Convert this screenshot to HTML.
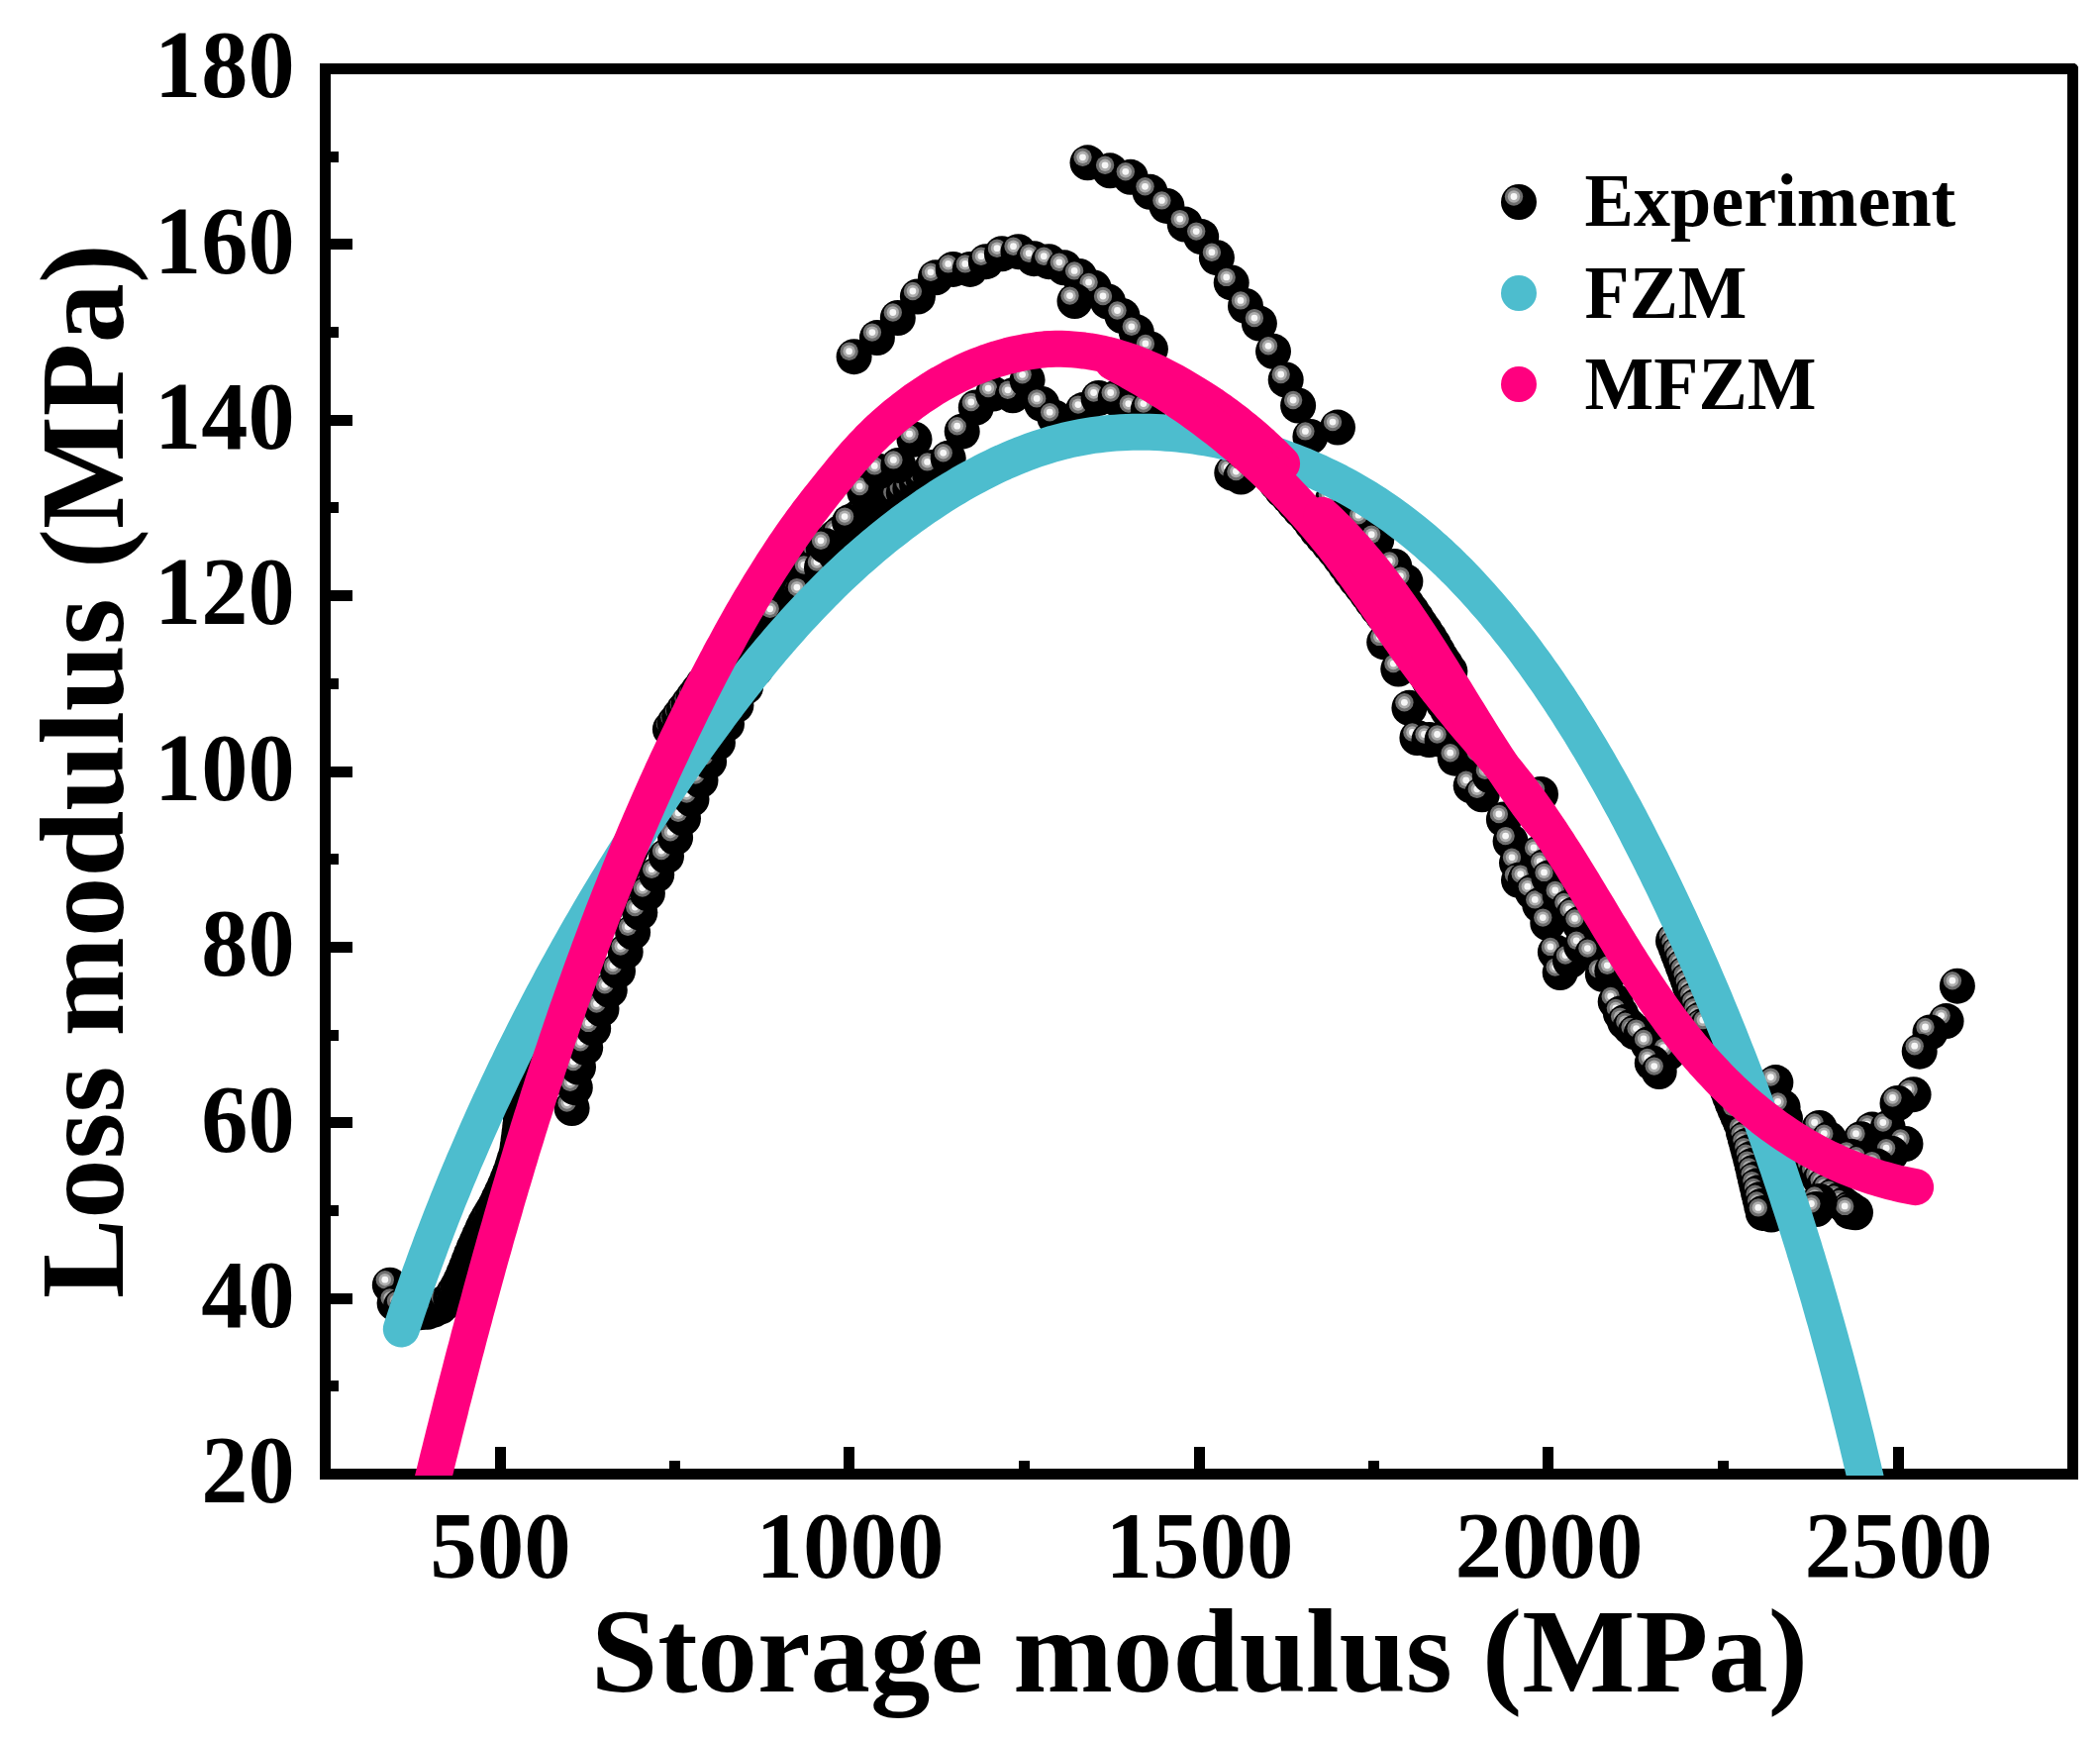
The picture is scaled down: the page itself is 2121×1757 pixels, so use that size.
<!DOCTYPE html>
<html><head><meta charset="utf-8"><title>Loss modulus vs Storage modulus</title><style>html,body{margin:0;padding:0;background:#fff;overflow:hidden}svg{display:block}</style></head><body>
<svg xmlns="http://www.w3.org/2000/svg" width="2121" height="1757" viewBox="0 0 2121 1757">
<defs>
<g id="m"><circle r="18" fill="#000"/><circle cx="-5" cy="-5.5" r="9.2" fill="#6e6e6e"/><circle cx="-5" cy="-5.5" r="6.2" fill="#adadad"/><circle cx="-5" cy="-5.5" r="3.4" fill="#f7f7f7"/></g>
<clipPath id="pc"><rect x="334" y="75" width="1754" height="1415"/></clipPath>
</defs>
<rect width="100%" height="100%" fill="#fff"/>
<g fill="#000" shape-rendering="crispEdges">
<rect x="323" y="64" width="1776" height="11"/>
<rect x="323" y="1483" width="1776" height="11"/>
<rect x="323" y="64" width="11" height="1430"/>
<rect x="2088" y="64" width="11" height="1430"/>
<rect x="334" y="241" width="22" height="11"/>
<rect x="334" y="419" width="22" height="11"/>
<rect x="334" y="596" width="22" height="11"/>
<rect x="334" y="774" width="22" height="11"/>
<rect x="334" y="951" width="22" height="11"/>
<rect x="334" y="1128" width="22" height="11"/>
<rect x="334" y="1306" width="22" height="11"/>
<rect x="334" y="153" width="8" height="11"/>
<rect x="334" y="330" width="8" height="11"/>
<rect x="334" y="507" width="8" height="11"/>
<rect x="334" y="685" width="8" height="11"/>
<rect x="334" y="862" width="8" height="11"/>
<rect x="334" y="1040" width="8" height="11"/>
<rect x="334" y="1217" width="8" height="11"/>
<rect x="334" y="1394" width="8" height="11"/>
<rect x="500" y="1461" width="11" height="22"/>
<rect x="852" y="1461" width="11" height="22"/>
<rect x="1206" y="1461" width="11" height="22"/>
<rect x="1558" y="1461" width="11" height="22"/>
<rect x="1912" y="1461" width="11" height="22"/>
<rect x="676" y="1475" width="11" height="8"/>
<rect x="1029" y="1475" width="11" height="8"/>
<rect x="1382" y="1475" width="11" height="8"/>
<rect x="1735" y="1475" width="11" height="8"/>
</g>
<path d="M2099.5,63.5 L2099.5,70 A6.5 6.5 0 0 0 2093,63.5 Z" fill="#fff"/>
<g id="exp">
<use href="#m" x="393.8" y="1297.7"/>
<use href="#m" x="398.6" y="1316.0"/>
<use href="#m" x="405.0" y="1318.9"/>
<use href="#m" x="411.4" y="1321.7"/>
<use href="#m" x="418.1" y="1323.5"/>
<use href="#m" x="424.9" y="1325.2"/>
<use href="#m" x="431.6" y="1324.8"/>
<use href="#m" x="438.3" y="1322.6"/>
<use href="#m" x="444.5" y="1319.7"/>
<use href="#m" x="449.9" y="1315.2"/>
<use href="#m" x="455.2" y="1310.7"/>
<use href="#m" x="458.8" y="1304.7"/>
<use href="#m" x="462.4" y="1298.7"/>
<use href="#m" x="465.5" y="1292.4"/>
<use href="#m" x="468.3" y="1286.0"/>
<use href="#m" x="471.0" y="1279.5"/>
<use href="#m" x="473.5" y="1273.0"/>
<use href="#m" x="476.0" y="1266.5"/>
<use href="#m" x="478.7" y="1260.0"/>
<use href="#m" x="481.6" y="1253.6"/>
<use href="#m" x="484.4" y="1247.2"/>
<use href="#m" x="487.3" y="1240.8"/>
<use href="#m" x="490.3" y="1234.5"/>
<use href="#m" x="493.7" y="1228.4"/>
<use href="#m" x="497.3" y="1222.4"/>
<use href="#m" x="500.8" y="1216.3"/>
<use href="#m" x="503.8" y="1210.0"/>
<use href="#m" x="506.8" y="1203.7"/>
<use href="#m" x="509.7" y="1197.3"/>
<use href="#m" x="512.4" y="1190.8"/>
<use href="#m" x="515.0" y="1184.4"/>
<use href="#m" x="517.3" y="1177.8"/>
<use href="#m" x="519.4" y="1171.1"/>
<use href="#m" x="521.6" y="1164.4"/>
<use href="#m" x="522.7" y="1157.5"/>
<use href="#m" x="523.6" y="1150.6"/>
<use href="#m" x="524.5" y="1143.7"/>
<use href="#m" x="525.3" y="1136.7"/>
<use href="#m" x="525.9" y="1129.7"/>
<use href="#m" x="526.6" y="1122.8"/>
<use href="#m" x="527.8" y="1115.9"/>
<use href="#m" x="530.4" y="1109.4"/>
<use href="#m" x="532.9" y="1102.9"/>
<use href="#m" x="535.5" y="1096.4"/>
<use href="#m" x="538.1" y="1089.9"/>
<use href="#m" x="540.7" y="1083.4"/>
<use href="#m" x="543.5" y="1076.9"/>
<use href="#m" x="546.2" y="1070.5"/>
<use href="#m" x="549.0" y="1064.1"/>
<use href="#m" x="551.7" y="1057.6"/>
<use href="#m" x="554.5" y="1051.2"/>
<use href="#m" x="557.2" y="1044.8"/>
<use href="#m" x="560.0" y="1038.3"/>
<use href="#m" x="562.8" y="1031.9"/>
<use href="#m" x="565.5" y="1025.5"/>
<use href="#m" x="568.3" y="1019.0"/>
<use href="#m" x="571.0" y="1012.6"/>
<use href="#m" x="573.8" y="1006.2"/>
<use href="#m" x="576.5" y="999.7"/>
<use href="#m" x="579.3" y="993.3"/>
<use href="#m" x="582.1" y="986.9"/>
<use href="#m" x="584.8" y="980.4"/>
<use href="#m" x="587.6" y="974.0"/>
<use href="#m" x="590.3" y="967.6"/>
<use href="#m" x="593.1" y="961.1"/>
<use href="#m" x="595.8" y="954.7"/>
<use href="#m" x="598.6" y="948.3"/>
<use href="#m" x="601.4" y="941.8"/>
<use href="#m" x="604.1" y="935.4"/>
<use href="#m" x="606.9" y="929.0"/>
<use href="#m" x="609.6" y="922.5"/>
<use href="#m" x="612.4" y="916.1"/>
<use href="#m" x="615.1" y="909.7"/>
<use href="#m" x="617.9" y="903.2"/>
<use href="#m" x="620.7" y="896.8"/>
<use href="#m" x="623.4" y="890.4"/>
<use href="#m" x="626.2" y="883.9"/>
<use href="#m" x="628.9" y="877.5"/>
<use href="#m" x="631.7" y="871.1"/>
<use href="#m" x="634.4" y="864.6"/>
<use href="#m" x="637.2" y="858.2"/>
<use href="#m" x="640.0" y="851.8"/>
<use href="#m" x="642.7" y="845.3"/>
<use href="#m" x="645.5" y="838.9"/>
<use href="#m" x="648.2" y="832.5"/>
<use href="#m" x="651.0" y="826.0"/>
<use href="#m" x="653.7" y="819.6"/>
<use href="#m" x="656.5" y="813.2"/>
<use href="#m" x="659.3" y="806.7"/>
<use href="#m" x="662.0" y="800.3"/>
<use href="#m" x="664.8" y="793.9"/>
<use href="#m" x="667.5" y="787.4"/>
<use href="#m" x="670.3" y="781.0"/>
<use href="#m" x="673.0" y="774.6"/>
<use href="#m" x="675.8" y="768.1"/>
<use href="#m" x="678.6" y="761.7"/>
<use href="#m" x="681.3" y="755.2"/>
<use href="#m" x="684.1" y="748.8"/>
<use href="#m" x="686.8" y="742.4"/>
<use href="#m" x="689.6" y="735.9"/>
<use href="#m" x="577.6" y="1119.0"/>
<use href="#m" x="580.8" y="1098.2"/>
<use href="#m" x="584.0" y="1077.5"/>
<use href="#m" x="591.2" y="1057.8"/>
<use href="#m" x="599.2" y="1038.4"/>
<use href="#m" x="607.5" y="1019.1"/>
<use href="#m" x="615.8" y="999.8"/>
<use href="#m" x="624.0" y="980.5"/>
<use href="#m" x="631.7" y="961.0"/>
<use href="#m" x="639.1" y="941.3"/>
<use href="#m" x="646.3" y="921.6"/>
<use href="#m" x="653.9" y="902.0"/>
<use href="#m" x="663.2" y="883.2"/>
<use href="#m" x="673.0" y="864.6"/>
<use href="#m" x="682.1" y="845.7"/>
<use href="#m" x="690.0" y="826.3"/>
<use href="#m" x="698.5" y="807.0"/>
<use href="#m" x="707.5" y="788.1"/>
<use href="#m" x="716.1" y="768.9"/>
<use href="#m" x="724.9" y="749.9"/>
<use href="#m" x="734.0" y="731.0"/>
<use href="#m" x="743.4" y="712.2"/>
<use href="#m" x="753.1" y="693.6"/>
<use href="#m" x="763.6" y="675.4"/>
<use href="#m" x="773.7" y="657.0"/>
<use href="#m" x="783.3" y="638.3"/>
<use href="#m" x="676.9" y="736.3"/>
<use href="#m" x="681.5" y="729.8"/>
<use href="#m" x="686.2" y="723.3"/>
<use href="#m" x="690.9" y="716.8"/>
<use href="#m" x="695.6" y="710.4"/>
<use href="#m" x="700.4" y="703.9"/>
<use href="#m" x="705.2" y="697.5"/>
<use href="#m" x="710.0" y="691.1"/>
<use href="#m" x="714.8" y="684.7"/>
<use href="#m" x="719.7" y="678.4"/>
<use href="#m" x="724.6" y="672.1"/>
<use href="#m" x="729.6" y="665.8"/>
<use href="#m" x="734.5" y="659.5"/>
<use href="#m" x="739.6" y="653.3"/>
<use href="#m" x="744.6" y="647.1"/>
<use href="#m" x="749.7" y="640.9"/>
<use href="#m" x="754.9" y="634.8"/>
<use href="#m" x="760.0" y="628.7"/>
<use href="#m" x="765.3" y="622.7"/>
<use href="#m" x="770.5" y="616.6"/>
<use href="#m" x="775.9" y="610.7"/>
<use href="#m" x="781.2" y="604.7"/>
<use href="#m" x="786.6" y="598.8"/>
<use href="#m" x="792.1" y="593.0"/>
<use href="#m" x="797.6" y="587.2"/>
<use href="#m" x="803.2" y="581.4"/>
<use href="#m" x="808.8" y="575.7"/>
<use href="#m" x="814.4" y="570.1"/>
<use href="#m" x="820.1" y="564.5"/>
<use href="#m" x="825.9" y="558.9"/>
<use href="#m" x="831.7" y="553.5"/>
<use href="#m" x="837.6" y="548.0"/>
<use href="#m" x="843.5" y="542.7"/>
<use href="#m" x="849.5" y="537.4"/>
<use href="#m" x="855.6" y="532.1"/>
<use href="#m" x="861.7" y="526.9"/>
<use href="#m" x="867.8" y="521.8"/>
<use href="#m" x="874.0" y="516.8"/>
<use href="#m" x="880.3" y="511.8"/>
<use href="#m" x="886.6" y="506.9"/>
<use href="#m" x="893.0" y="502.1"/>
<use href="#m" x="899.4" y="497.3"/>
<use href="#m" x="906.3" y="502.2"/>
<use href="#m" x="912.8" y="497.6"/>
<use href="#m" x="919.3" y="493.0"/>
<use href="#m" x="926.0" y="488.5"/>
<use href="#m" x="932.6" y="484.1"/>
<use href="#m" x="939.4" y="479.8"/>
<use href="#m" x="946.2" y="475.5"/>
<use href="#m" x="953.0" y="471.4"/>
<use href="#m" x="782.7" y="620.3"/>
<use href="#m" x="806.9" y="600.2"/>
<use href="#m" x="816.9" y="576.0"/>
<use href="#m" x="830.0" y="573.0"/>
<use href="#m" x="844.1" y="559.9"/>
<use href="#m" x="847.1" y="539.8"/>
<use href="#m" x="858.1" y="527.1"/>
<use href="#m" x="873.2" y="496.6"/>
<use href="#m" x="809.9" y="598.6"/>
<use href="#m" x="834.0" y="551.3"/>
<use href="#m" x="888.3" y="475.9"/>
<use href="#m" x="907.4" y="469.9"/>
<use href="#m" x="923.5" y="443.7"/>
<use href="#m" x="941.6" y="471.9"/>
<use href="#m" x="957.7" y="462.8"/>
<use href="#m" x="971.7" y="435.7"/>
<use href="#m" x="985.8" y="411.5"/>
<use href="#m" x="1003.1" y="397.6"/>
<use href="#m" x="1022.9" y="399.3"/>
<use href="#m" x="1037.6" y="383.8"/>
<use href="#m" x="1052.2" y="407.9"/>
<use href="#m" x="1065.2" y="421.7"/>
<use href="#m" x="1093.9" y="414.1"/>
<use href="#m" x="1109.6" y="402.0"/>
<use href="#m" x="1126.7" y="402.0"/>
<use href="#m" x="1144.8" y="413.1"/>
<use href="#m" x="1159.9" y="413.1"/>
<use href="#m" x="1244.3" y="477.5"/>
<use href="#m" x="1253.4" y="481.5"/>
<use href="#m" x="862.6" y="360.2"/>
<use href="#m" x="885.9" y="341.1"/>
<use href="#m" x="906.8" y="321.0"/>
<use href="#m" x="926.9" y="299.5"/>
<use href="#m" x="945.0" y="280.3"/>
<use href="#m" x="962.7" y="271.9"/>
<use href="#m" x="979.8" y="271.9"/>
<use href="#m" x="995.9" y="264.2"/>
<use href="#m" x="1012.0" y="256.2"/>
<use href="#m" x="1028.5" y="254.2"/>
<use href="#m" x="1044.2" y="261.2"/>
<use href="#m" x="1059.3" y="264.2"/>
<use href="#m" x="1074.8" y="270.3"/>
<use href="#m" x="1090.1" y="278.9"/>
<use href="#m" x="1104.6" y="290.4"/>
<use href="#m" x="1119.0" y="304.5"/>
<use href="#m" x="1133.5" y="319.0"/>
<use href="#m" x="1147.8" y="335.3"/>
<use href="#m" x="1161.9" y="352.4"/>
<use href="#m" x="1085.5" y="304.1"/>
<use href="#m" x="1098.5" y="164.3"/>
<use href="#m" x="1121.1" y="172.3"/>
<use href="#m" x="1141.8" y="178.8"/>
<use href="#m" x="1161.5" y="193.8"/>
<use href="#m" x="1178.4" y="207.9"/>
<use href="#m" x="1196.7" y="226.6"/>
<use href="#m" x="1213.2" y="239.1"/>
<use href="#m" x="1228.9" y="260.2"/>
<use href="#m" x="1243.7" y="285.4"/>
<use href="#m" x="1258.0" y="308.9"/>
<use href="#m" x="1271.9" y="326.6"/>
<use href="#m" x="1286.0" y="354.8"/>
<use href="#m" x="1298.7" y="383.5"/>
<use href="#m" x="1311.1" y="409.5"/>
<use href="#m" x="1323.4" y="440.9"/>
<use href="#m" x="1351.0" y="431.6"/>
<use href="#m" x="1234.8" y="441.7"/>
<use href="#m" x="1242.4" y="446.6"/>
<use href="#m" x="1249.9" y="451.5"/>
<use href="#m" x="1256.9" y="457.1"/>
<use href="#m" x="1264.0" y="462.7"/>
<use href="#m" x="1270.7" y="468.7"/>
<use href="#m" x="1277.4" y="474.7"/>
<use href="#m" x="1284.1" y="480.8"/>
<use href="#m" x="1289.3" y="488.1"/>
<use href="#m" x="1294.9" y="495.1"/>
<use href="#m" x="1301.3" y="501.4"/>
<use href="#m" x="1307.1" y="508.3"/>
<use href="#m" x="1313.1" y="515.0"/>
<use href="#m" x="1319.4" y="521.4"/>
<use href="#m" x="1324.8" y="528.6"/>
<use href="#m" x="1330.2" y="535.8"/>
<use href="#m" x="1336.1" y="542.6"/>
<use href="#m" x="1342.0" y="549.4"/>
<use href="#m" x="1347.8" y="556.3"/>
<use href="#m" x="1353.3" y="563.4"/>
<use href="#m" x="1358.6" y="570.7"/>
<use href="#m" x="1363.8" y="578.0"/>
<use href="#m" x="1369.2" y="585.2"/>
<use href="#m" x="1374.9" y="592.2"/>
<use href="#m" x="1380.3" y="599.4"/>
<use href="#m" x="1385.5" y="606.7"/>
<use href="#m" x="1390.9" y="613.9"/>
<use href="#m" x="1396.5" y="621.0"/>
<use href="#m" x="1402.6" y="627.5"/>
<use href="#m" x="1408.4" y="634.4"/>
<use href="#m" x="1413.5" y="641.9"/>
<use href="#m" x="1418.5" y="649.3"/>
<use href="#m" x="1423.5" y="656.8"/>
<use href="#m" x="1428.5" y="664.3"/>
<use href="#m" x="1433.5" y="671.8"/>
<use href="#m" x="1438.5" y="679.2"/>
<use href="#m" x="1443.3" y="686.9"/>
<use href="#m" x="1448.0" y="694.5"/>
<use href="#m" x="1452.8" y="702.1"/>
<use href="#m" x="1457.6" y="709.8"/>
<use href="#m" x="1462.3" y="717.4"/>
<use href="#m" x="1467.1" y="725.1"/>
<use href="#m" x="1472.8" y="732.0"/>
<use href="#m" x="1478.7" y="738.8"/>
<use href="#m" x="1484.8" y="745.3"/>
<use href="#m" x="1491.8" y="751.0"/>
<use href="#m" x="1498.9" y="756.6"/>
<use href="#m" x="1350.9" y="523.7"/>
<use href="#m" x="1356.5" y="529.3"/>
<use href="#m" x="1362.1" y="535.1"/>
<use href="#m" x="1367.3" y="541.2"/>
<use href="#m" x="1372.5" y="547.2"/>
<use href="#m" x="1377.7" y="553.3"/>
<use href="#m" x="1383.0" y="559.4"/>
<use href="#m" x="1388.2" y="565.4"/>
<use href="#m" x="1393.0" y="571.8"/>
<use href="#m" x="1397.4" y="578.5"/>
<use href="#m" x="1401.8" y="585.2"/>
<use href="#m" x="1406.2" y="591.8"/>
<use href="#m" x="1410.9" y="598.2"/>
<use href="#m" x="1416.1" y="604.4"/>
<use href="#m" x="1421.2" y="610.6"/>
<use href="#m" x="1425.8" y="617.0"/>
<use href="#m" x="1430.3" y="623.7"/>
<use href="#m" x="1434.7" y="630.4"/>
<use href="#m" x="1439.2" y="637.0"/>
<use href="#m" x="1443.6" y="643.7"/>
<use href="#m" x="1447.8" y="650.5"/>
<use href="#m" x="1451.7" y="657.4"/>
<use href="#m" x="1455.7" y="664.4"/>
<use href="#m" x="1460.0" y="671.1"/>
<use href="#m" x="1464.4" y="677.8"/>
<use href="#m" x="1556.0" y="802.0"/>
<use href="#m" x="1345.9" y="505.0"/>
<use href="#m" x="1377.1" y="525.7"/>
<use href="#m" x="1390.2" y="545.2"/>
<use href="#m" x="1408.3" y="572.0"/>
<use href="#m" x="1419.4" y="587.1"/>
<use href="#m" x="1398.2" y="648.4"/>
<use href="#m" x="1412.3" y="675.6"/>
<use href="#m" x="1423.4" y="714.8"/>
<use href="#m" x="1431.4" y="745.0"/>
<use href="#m" x="1443.5" y="747.0"/>
<use href="#m" x="1456.6" y="747.0"/>
<use href="#m" x="1469.7" y="765.7"/>
<use href="#m" x="1495.8" y="765.1"/>
<use href="#m" x="1485.7" y="793.3"/>
<use href="#m" x="1496.8" y="802.3"/>
<use href="#m" x="1504.9" y="783.2"/>
<use href="#m" x="1518.9" y="827.5"/>
<use href="#m" x="1525.6" y="849.6"/>
<use href="#m" x="1532.0" y="871.3"/>
<use href="#m" x="1534.0" y="888.8"/>
<use href="#m" x="1690.0" y="950.0"/>
<use href="#m" x="1692.5" y="956.6"/>
<use href="#m" x="1694.9" y="963.1"/>
<use href="#m" x="1697.4" y="969.7"/>
<use href="#m" x="1699.8" y="976.2"/>
<use href="#m" x="1702.3" y="982.8"/>
<use href="#m" x="1704.7" y="989.3"/>
<use href="#m" x="1706.9" y="996.0"/>
<use href="#m" x="1709.1" y="1002.6"/>
<use href="#m" x="1711.3" y="1009.3"/>
<use href="#m" x="1713.4" y="1015.9"/>
<use href="#m" x="1715.6" y="1022.6"/>
<use href="#m" x="1717.8" y="1029.3"/>
<use href="#m" x="1720.2" y="1035.8"/>
<use href="#m" x="1722.7" y="1042.4"/>
<use href="#m" x="1725.1" y="1048.9"/>
<use href="#m" x="1727.6" y="1055.5"/>
<use href="#m" x="1730.1" y="1062.0"/>
<use href="#m" x="1732.6" y="1068.6"/>
<use href="#m" x="1735.0" y="1075.1"/>
<use href="#m" x="1737.5" y="1081.7"/>
<use href="#m" x="1740.0" y="1088.2"/>
<use href="#m" x="1742.4" y="1094.8"/>
<use href="#m" x="1744.9" y="1101.3"/>
<use href="#m" x="1747.3" y="1107.9"/>
<use href="#m" x="1749.8" y="1114.4"/>
<use href="#m" x="1752.5" y="1120.9"/>
<use href="#m" x="1755.3" y="1127.3"/>
<use href="#m" x="1758.0" y="1133.7"/>
<use href="#m" x="1760.8" y="1140.2"/>
<use href="#m" x="1763.5" y="1146.6"/>
<use href="#m" x="1766.0" y="1153.2"/>
<use href="#m" x="1768.2" y="1159.8"/>
<use href="#m" x="1770.4" y="1166.5"/>
<use href="#m" x="1772.5" y="1173.1"/>
<use href="#m" x="1774.7" y="1179.8"/>
<use href="#m" x="1776.8" y="1186.4"/>
<use href="#m" x="1778.9" y="1193.1"/>
<use href="#m" x="1780.9" y="1199.8"/>
<use href="#m" x="1783.0" y="1206.5"/>
<use href="#m" x="1785.0" y="1213.2"/>
<use href="#m" x="1787.0" y="1219.9"/>
<use href="#m" x="1789.0" y="1226.6"/>
<use href="#m" x="1750.0" y="1110.0"/>
<use href="#m" x="1752.2" y="1116.6"/>
<use href="#m" x="1754.4" y="1123.3"/>
<use href="#m" x="1760.9" y="1143.3"/>
<use href="#m" x="1762.7" y="1150.0"/>
<use href="#m" x="1764.5" y="1156.8"/>
<use href="#m" x="1766.3" y="1163.6"/>
<use href="#m" x="1768.1" y="1170.3"/>
<use href="#m" x="1769.7" y="1177.1"/>
<use href="#m" x="1771.3" y="1184.0"/>
<use href="#m" x="1772.8" y="1190.8"/>
<use href="#m" x="1774.4" y="1197.6"/>
<use href="#m" x="1776.0" y="1204.4"/>
<use href="#m" x="1777.6" y="1211.2"/>
<use href="#m" x="1779.2" y="1218.0"/>
<use href="#m" x="1780.8" y="1224.9"/>
<use href="#m" x="1830.0" y="1180.0"/>
<use href="#m" x="1834.2" y="1185.6"/>
<use href="#m" x="1838.4" y="1191.2"/>
<use href="#m" x="1842.6" y="1196.8"/>
<use href="#m" x="1847.1" y="1202.1"/>
<use href="#m" x="1852.1" y="1207.1"/>
<use href="#m" x="1857.0" y="1212.0"/>
<use href="#m" x="1862.3" y="1216.5"/>
<use href="#m" x="1868.1" y="1220.4"/>
<use href="#m" x="1874.0" y="1224.3"/>
<use href="#m" x="1540.7" y="888.1"/>
<use href="#m" x="1547.8" y="900.7"/>
<use href="#m" x="1555.3" y="913.9"/>
<use href="#m" x="1563.3" y="932.1"/>
<use href="#m" x="1570.9" y="961.4"/>
<use href="#m" x="1575.7" y="982.1"/>
<use href="#m" x="1586.0" y="970.0"/>
<use href="#m" x="1554.1" y="861.4"/>
<use href="#m" x="1560.2" y="875.2"/>
<use href="#m" x="1564.5" y="886.4"/>
<use href="#m" x="1575.7" y="904.5"/>
<use href="#m" x="1584.3" y="916.5"/>
<use href="#m" x="1589.5" y="923.4"/>
<use href="#m" x="1595.5" y="932.9"/>
<use href="#m" x="1597.2" y="955.3"/>
<use href="#m" x="1608.4" y="963.1"/>
<use href="#m" x="1618.8" y="983.8"/>
<use href="#m" x="1628.3" y="980.3"/>
<use href="#m" x="1631.7" y="1011.4"/>
<use href="#m" x="1636.9" y="1023.4"/>
<use href="#m" x="1641.2" y="1032.1"/>
<use href="#m" x="1646.4" y="1037.2"/>
<use href="#m" x="1651.6" y="1042.4"/>
<use href="#m" x="1657.6" y="1044.1"/>
<use href="#m" x="1665.0" y="1054.5"/>
<use href="#m" x="1685.2" y="1063.1"/>
<use href="#m" x="1668.8" y="1073.4"/>
<use href="#m" x="1675.7" y="1082.1"/>
<use href="#m" x="1724.8" y="1035.5"/>
<use href="#m" x="1976.9" y="995.7"/>
<use href="#m" x="1965.6" y="1031.1"/>
<use href="#m" x="1949.5" y="1042.4"/>
<use href="#m" x="1938.7" y="1061.7"/>
<use href="#m" x="1793.4" y="1093.1"/>
<use href="#m" x="1803.0" y="1129.3"/>
<use href="#m" x="1800.6" y="1118.0"/>
<use href="#m" x="1837.6" y="1139.0"/>
<use href="#m" x="1847.3" y="1150.2"/>
<use href="#m" x="1890.8" y="1140.6"/>
<use href="#m" x="1906.8" y="1139.0"/>
<use href="#m" x="1932.6" y="1105.2"/>
<use href="#m" x="1916.5" y="1114.0"/>
<use href="#m" x="1879.5" y="1150.2"/>
<use href="#m" x="1924.5" y="1155.0"/>
<use href="#m" x="1910.1" y="1164.7"/>
<use href="#m" x="1869.8" y="1167.9"/>
<use href="#m" x="1879.5" y="1172.8"/>
<use href="#m" x="1895.6" y="1177.6"/>
<use href="#m" x="1868.2" y="1223.4"/>
<use href="#m" x="1837.6" y="1213.0"/>
<use href="#m" x="1834.4" y="1221.0"/>
</g>
<g clip-path="url(#pc)" fill="none" stroke-linecap="round" stroke-linejoin="round" stroke-width="37">
<path d="M405.3,1342.0 L407.2,1336.3 L409.1,1330.6 L411.0,1324.8 L412.9,1319.1 L414.9,1313.4 L416.8,1307.7 L418.8,1302.1 L420.8,1296.4 L422.8,1290.7 L424.8,1285.0 L426.9,1279.3 L428.9,1273.7 L431.0,1268.0 L433.1,1262.4 L435.2,1256.7 L437.3,1251.1 L439.5,1245.5 L441.6,1239.8 L443.8,1234.2 L446.0,1228.6 L448.2,1223.0 L450.4,1217.4 L452.6,1211.8 L454.9,1206.2 L457.2,1200.6 L459.4,1195.1 L461.7,1189.5 L464.1,1183.9 L466.4,1178.4 L468.7,1172.8 L471.1,1167.3 L473.5,1161.8 L475.9,1156.2 L478.3,1150.7 L480.7,1145.2 L483.1,1139.7 L485.6,1134.2 L488.0,1128.7 L490.5,1123.2 L493.0,1117.7 L495.5,1112.2 L498.1,1106.8 L500.6,1101.3 L503.2,1095.9 L505.8,1090.4 L508.3,1085.0 L510.9,1079.6 L513.6,1074.2 L516.2,1068.7 L518.8,1063.3 L521.5,1057.9 L524.2,1052.6 L526.9,1047.2 L529.6,1041.8 L532.3,1036.4 L535.0,1031.1 L537.8,1025.7 L540.6,1020.4 L543.3,1015.1 L546.1,1009.7 L548.9,1004.4 L551.8,999.1 L554.6,993.8 L557.4,988.5 L560.3,983.2 L563.2,977.9 L566.1,972.7 L569.0,967.4 L571.9,962.2 L574.8,956.9 L577.8,951.7 L580.7,946.5 L583.7,941.3 L586.7,936.1 L589.7,930.9 L592.7,925.7 L595.7,920.5 L598.8,915.3 L601.8,910.2 L604.9,905.0 L608.0,899.9 L611.1,894.7 L614.2,889.6 L617.3,884.5 L620.4,879.4 L623.6,874.3 L626.8,869.2 L629.9,864.1 L633.1,859.0 L636.3,854.0 L639.5,848.9 L642.7,843.9 L646.0,838.9 L649.2,833.8 L652.5,828.8 L655.8,823.8 L659.1,818.8 L662.4,813.9 L665.7,808.9 L669.0,803.9 L672.3,799.0 L675.7,794.0 L679.1,789.1 L682.4,784.2 L685.8,779.3 L689.2,774.4 L692.6,769.5 L696.1,764.6 L699.5,759.7 L702.9,754.9 L706.4,750.0 L709.9,745.2 L713.4,740.4 L716.9,735.6 L720.4,730.8 L723.9,726.0 L727.4,721.2 L731.0,716.4 L734.6,711.7 L738.1,706.9 L741.7,702.2 L745.4,697.5 L749.0,692.8 L752.7,688.2 L756.3,683.5 L760.0,678.9 L763.8,674.3 L767.5,669.7 L771.2,665.1 L775.0,660.6 L778.8,656.0 L782.7,651.5 L786.5,647.0 L790.4,642.6 L794.3,638.1 L798.2,633.7 L802.1,629.3 L806.1,624.9 L810.1,620.6 L814.1,616.3 L818.2,612.0 L822.3,607.7 L826.4,603.5 L830.5,599.3 L834.7,595.1 L838.9,590.9 L843.1,586.8 L847.4,582.7 L851.7,578.6 L856.0,574.6 L860.3,570.6 L864.7,566.6 L869.2,562.7 L873.6,558.8 L878.1,554.9 L882.7,551.1 L887.2,547.3 L891.8,543.5 L896.5,539.8 L901.2,536.1 L905.9,532.5 L910.6,528.8 L915.4,525.3 L920.3,521.7 L925.1,518.2 L930.1,514.8 L935.0,511.3 L940.0,508.0 L945.1,504.6 L950.1,501.3 L955.3,498.1 L960.4,494.9 L965.6,491.8 L970.8,488.7 L976.1,485.7 L981.4,482.8 L986.7,479.9 L992.0,477.1 L997.4,474.4 L1002.8,471.7 L1008.3,469.1 L1013.7,466.6 L1019.2,464.2 L1024.7,461.9 L1030.3,459.6 L1035.8,457.5 L1041.4,455.4 L1047.0,453.4 L1052.6,451.6 L1058.2,449.8 L1063.9,448.1 L1069.5,446.6 L1075.2,445.1 L1080.9,443.8 L1086.6,442.6 L1092.3,441.5 L1098.0,440.5 L1103.7,439.6 L1109.5,438.8 L1115.2,438.1 L1120.9,437.5 L1126.7,437.1 L1132.4,436.7 L1138.2,436.4 L1143.9,436.3 L1149.7,436.2 L1155.5,436.2 L1161.2,436.3 L1167.0,436.5 L1172.7,436.8 L1178.4,437.2 L1184.2,437.6 L1189.9,438.2 L1195.6,438.8 L1201.3,439.5 L1207.0,440.3 L1212.7,441.2 L1218.4,442.1 L1224.0,443.1 L1229.7,444.2 L1235.3,445.4 L1240.9,446.6 L1246.5,447.9 L1252.1,449.2 L1257.6,450.6 L1263.1,452.1 L1268.6,453.7 L1274.1,455.3 L1279.6,457.0 L1285.0,458.7 L1290.4,460.5 L1295.7,462.4 L1301.0,464.3 L1306.3,466.3 L1311.6,468.4 L1316.8,470.5 L1322.0,472.7 L1327.1,474.9 L1332.2,477.2 L1337.2,479.6 L1342.3,482.0 L1347.2,484.4 L1352.2,486.9 L1357.0,489.5 L1361.9,492.1 L1366.7,494.8 L1371.4,497.6 L1376.1,500.4 L1380.8,503.2 L1385.4,506.1 L1390.0,509.1 L1394.5,512.1 L1399.0,515.1 L1403.5,518.2 L1407.9,521.4 L1412.2,524.6 L1416.5,527.8 L1420.8,531.1 L1425.1,534.5 L1429.3,537.9 L1433.4,541.3 L1437.6,544.8 L1441.7,548.3 L1445.7,551.9 L1449.8,555.5 L1453.8,559.2 L1457.7,562.9 L1461.7,566.6 L1465.6,570.4 L1469.4,574.3 L1473.3,578.1 L1477.1,582.1 L1480.9,586.0 L1484.7,590.0 L1488.4,594.0 L1492.1,598.1 L1495.8,602.2 L1499.5,606.4 L1503.1,610.5 L1506.8,614.8 L1510.4,619.0 L1513.9,623.3 L1517.5,627.6 L1521.0,632.0 L1524.5,636.4 L1528.0,640.8 L1531.5,645.2 L1535.0,649.7 L1538.4,654.2 L1541.8,658.8 L1545.2,663.4 L1548.6,668.0 L1551.9,672.6 L1555.2,677.3 L1558.5,682.0 L1561.8,686.7 L1565.1,691.4 L1568.3,696.2 L1571.5,701.0 L1574.8,705.8 L1577.9,710.7 L1581.1,715.5 L1584.3,720.4 L1587.4,725.4 L1590.5,730.3 L1593.6,735.3 L1596.7,740.2 L1599.7,745.2 L1602.8,750.3 L1605.8,755.3 L1608.8,760.4 L1611.8,765.4 L1614.7,770.5 L1617.7,775.7 L1620.6,780.8 L1623.5,785.9 L1626.4,791.1 L1629.3,796.3 L1632.2,801.5 L1635.0,806.7 L1637.9,811.9 L1640.7,817.1 L1643.5,822.4 L1646.3,827.6 L1649.0,832.9 L1651.8,838.2 L1654.5,843.5 L1657.2,848.8 L1659.9,854.1 L1662.6,859.4 L1665.3,864.7 L1668.0,870.0 L1670.6,875.4 L1673.3,880.7 L1675.9,886.1 L1678.5,891.4 L1681.1,896.8 L1683.7,902.2 L1686.2,907.6 L1688.8,913.0 L1691.3,918.3 L1693.8,923.7 L1696.4,929.2 L1698.8,934.6 L1701.3,940.0 L1703.8,945.4 L1706.3,950.9 L1708.7,956.3 L1711.1,961.7 L1713.5,967.2 L1715.9,972.7 L1718.3,978.1 L1720.7,983.6 L1723.0,989.1 L1725.4,994.6 L1727.7,1000.0 L1730.0,1005.5 L1732.4,1011.1 L1734.6,1016.6 L1736.9,1022.1 L1739.2,1027.6 L1741.4,1033.1 L1743.7,1038.7 L1745.9,1044.2 L1748.1,1049.8 L1750.3,1055.3 L1752.5,1060.9 L1754.7,1066.4 L1756.9,1072.0 L1759.0,1077.6 L1761.2,1083.2 L1763.3,1088.8 L1765.4,1094.3 L1767.5,1099.9 L1769.6,1105.6 L1771.7,1111.2 L1773.7,1116.8 L1775.8,1122.4 L1777.8,1128.0 L1779.9,1133.7 L1781.9,1139.3 L1783.9,1144.9 L1785.9,1150.6 L1787.9,1156.3 L1789.8,1161.9 L1791.8,1167.6 L1793.7,1173.3 L1795.7,1178.9 L1797.6,1184.6 L1799.5,1190.3 L1801.4,1196.0 L1803.3,1201.7 L1805.2,1207.4 L1807.0,1213.1 L1808.9,1218.8 L1810.7,1224.5 L1812.6,1230.3 L1814.4,1236.0 L1816.2,1241.7 L1818.0,1247.5 L1819.8,1253.2 L1821.6,1258.9 L1823.3,1264.7 L1825.1,1270.4 L1826.8,1276.2 L1828.6,1282.0 L1830.3,1287.7 L1832.0,1293.5 L1833.7,1299.3 L1835.4,1305.1 L1837.1,1310.9 L1838.7,1316.7 L1840.4,1322.5 L1842.0,1328.3 L1843.7,1334.1 L1845.3,1339.9 L1846.9,1345.7 L1848.5,1351.5 L1850.1,1357.4 L1851.7,1363.2 L1853.3,1369.0 L1854.9,1374.9 L1856.4,1380.7 L1858.0,1386.5 L1859.5,1392.4 L1861.0,1398.2 L1862.6,1404.1 L1864.1,1410.0 L1865.6,1415.8 L1867.1,1421.7 L1868.5,1427.6 L1870.0,1433.5 L1871.5,1439.3 L1872.9,1445.2 L1874.4,1451.1 L1875.8,1457.0 L1877.2,1462.9 L1878.6,1468.8 L1880.0,1474.7 L1881.4,1480.6 L1882.8,1486.5 L1884.2,1492.4" stroke="#4dbdce"/>
<path d="M435.8,1499.3 L437.2,1493.5 L438.6,1487.8 L440.1,1482.0 L441.5,1476.2 L442.9,1470.4 L444.4,1464.6 L445.8,1458.8 L447.3,1453.0 L448.7,1447.2 L450.2,1441.4 L451.6,1435.6 L453.1,1429.8 L454.6,1424.0 L456.0,1418.1 L457.5,1412.3 L459.0,1406.5 L460.5,1400.7 L462.0,1394.9 L463.5,1389.1 L465.0,1383.3 L466.5,1377.5 L468.0,1371.7 L469.5,1365.9 L471.1,1360.1 L472.6,1354.2 L474.1,1348.4 L475.7,1342.6 L477.2,1336.8 L478.8,1331.0 L480.3,1325.2 L481.9,1319.4 L483.5,1313.6 L485.0,1307.8 L486.6,1302.0 L488.2,1296.1 L489.8,1290.3 L491.4,1284.5 L493.0,1278.7 L494.6,1272.9 L496.2,1267.1 L497.9,1261.3 L499.5,1255.5 L501.1,1249.7 L502.8,1243.9 L504.5,1238.1 L506.1,1232.3 L507.8,1226.5 L509.5,1220.7 L511.1,1214.9 L512.8,1209.1 L514.5,1203.4 L516.2,1197.6 L518.0,1191.8 L519.7,1186.0 L521.4,1180.2 L523.1,1174.5 L524.9,1168.7 L526.6,1162.9 L528.4,1157.1 L530.2,1151.4 L532.0,1145.6 L533.7,1139.8 L535.5,1134.1 L537.3,1128.3 L539.2,1122.6 L541.0,1116.8 L542.8,1111.1 L544.6,1105.3 L546.5,1099.6 L548.3,1093.8 L550.2,1088.1 L552.1,1082.4 L554.0,1076.6 L555.9,1070.9 L557.8,1065.2 L559.7,1059.5 L561.6,1053.7 L563.5,1048.0 L565.5,1042.3 L567.4,1036.6 L569.4,1030.9 L571.3,1025.2 L573.3,1019.5 L575.3,1013.8 L577.3,1008.1 L579.3,1002.5 L581.3,996.8 L583.4,991.1 L585.4,985.5 L587.4,979.8 L589.5,974.1 L591.6,968.5 L593.7,962.8 L595.7,957.2 L597.9,951.6 L600.0,945.9 L602.1,940.3 L604.2,934.7 L606.4,929.1 L608.5,923.4 L610.7,917.8 L612.9,912.2 L615.1,906.6 L617.3,901.0 L619.5,895.5 L621.7,889.9 L624.0,884.3 L626.2,878.7 L628.5,873.2 L630.8,867.6 L633.0,862.1 L635.3,856.5 L637.7,851.0 L640.0,845.5 L642.3,839.9 L644.7,834.4 L647.0,828.9 L649.4,823.4 L651.8,817.9 L654.2,812.4 L656.6,806.9 L659.0,801.5 L661.5,796.0 L663.9,790.5 L666.4,785.1 L668.8,779.6 L671.3,774.2 L673.8,768.8 L676.4,763.3 L678.9,757.9 L681.4,752.5 L684.0,747.1 L686.6,741.7 L689.2,736.3 L691.8,730.9 L694.4,725.6 L697.0,720.2 L699.6,714.8 L702.3,709.5 L705.0,704.2 L707.6,698.8 L710.3,693.5 L713.1,688.2 L715.8,682.9 L718.5,677.6 L721.3,672.3 L724.1,667.1 L726.8,661.8 L729.6,656.6 L732.5,651.4 L735.3,646.2 L738.1,641.0 L741.0,635.8 L743.9,630.7 L746.7,625.6 L749.6,620.5 L752.6,615.4 L755.5,610.4 L758.4,605.4 L761.4,600.4 L764.4,595.5 L767.3,590.5 L770.3,585.7 L773.4,580.8 L776.4,576.0 L779.4,571.2 L782.5,566.5 L785.6,561.7 L788.6,557.1 L791.7,552.4 L794.9,547.8 L798.0,543.3 L801.1,538.8 L804.3,534.3 L807.5,529.9 L810.6,525.5 L813.8,521.2 L817.0,516.9 L820.3,512.7 L823.5,508.5 L826.8,504.3 L830.1,500.1 L833.4,495.9 L836.7,491.8 L840.0,487.6 L843.4,483.5 L846.8,479.3 L850.2,475.1 L853.7,471.0 L857.1,466.9 L860.6,462.8 L864.1,458.8 L867.7,454.8 L871.3,450.9 L874.9,447.1 L878.5,443.3 L882.2,439.7 L885.9,436.1 L889.7,432.5 L893.5,429.1 L897.3,425.7 L901.1,422.4 L905.0,419.1 L909.0,416.0 L913.0,412.9 L917.0,409.8 L921.0,406.8 L925.1,403.8 L929.3,400.9 L933.5,398.1 L937.7,395.3 L942.0,392.5 L946.3,389.9 L950.7,387.3 L955.2,384.8 L959.7,382.3 L964.2,380.0 L968.8,377.7 L973.4,375.5 L978.1,373.3 L982.8,371.3 L987.6,369.3 L992.5,367.5 L997.4,365.7 L1002.4,364.0 L1007.4,362.4 L1012.5,360.9 L1017.6,359.5 L1022.8,358.2 L1028.1,357.1 L1033.4,356.0 L1038.7,355.0 L1044.2,354.2 L1049.6,353.4 L1055.1,352.8 L1060.7,352.4 L1066.2,352.3 L1071.9,352.3 L1077.5,352.5 L1083.2,352.9 L1088.9,353.4 L1094.6,354.0 L1100.3,354.8 L1106.1,355.8 L1111.8,356.9 L1117.6,358.2 L1123.4,359.7 L1129.1,361.3 L1134.9,363.1 L1140.6,365.0 L1146.4,367.1 L1152.1,369.4 L1157.8,371.8 L1163.5,374.3 L1169.2,376.9 L1174.8,379.7 L1180.4,382.6 L1185.9,385.6 L1191.5,388.7 L1196.9,391.9 L1202.3,395.1 L1207.7,398.3 L1213.0,401.6 L1218.3,405.0 L1223.5,408.4 L1228.6,412.0 L1233.6,415.5 L1238.6,419.2 L1243.5,422.8 L1248.3,426.5 L1253.0,430.3 L1257.6,434.0 L1262.2,437.8 L1266.6,441.6 L1270.9,445.4 L1275.2,449.2 L1279.3,453.0 L1283.3,456.8 L1287.2,460.6 L1290.9,464.4 L1294.6,468.1" stroke="#ff007f"/>
<path d="M1124.2,365.7 L1129.6,368.5 L1135.0,371.4 L1140.4,374.3 L1145.7,377.3 L1151.0,380.3 L1156.2,383.4 L1161.4,386.5 L1166.6,389.7 L1171.8,392.9 L1176.9,396.1 L1181.9,399.4 L1187.0,402.7 L1192.0,406.1 L1197.0,409.5 L1201.9,412.9 L1206.8,416.4 L1211.7,419.9 L1216.5,423.5 L1221.3,427.1 L1226.1,430.8 L1230.8,434.4 L1235.5,438.2 L1240.1,441.9 L1244.7,445.8 L1249.3,449.6 L1253.9,453.5 L1258.4,457.4 L1262.9,461.4 L1267.3,465.4 L1271.8,469.5 L1276.1,473.5 L1280.5,477.7 L1284.8,481.8 L1289.1,486.0 L1293.3,490.3 L1297.5,494.5 L1301.7,498.9 L1305.8,503.2 L1309.9,507.6 L1314.0,512.0 L1318.0,516.5 L1322.0,521.0 L1326.0,525.5 L1329.9,530.1 L1333.8,534.7 L1337.7,539.3 L1341.5,544.0 L1345.3,548.7 L1349.1,553.5 L1352.8,558.3 L1356.5,563.1 L1360.1,567.9 L1363.8,572.8 L1367.4,577.7 L1370.9,582.6 L1374.5,587.6 L1378.0,592.6 L1381.5,597.5 L1385.0,602.5 L1388.5,607.5 L1392.0,612.5 L1395.5,617.5 L1398.9,622.5 L1402.4,627.5 L1405.8,632.5 L1409.3,637.4 L1412.7,642.4 L1416.2,647.3 L1419.6,652.3 L1423.1,657.2 L1426.6,662.0 L1430.0,666.9 L1433.5,671.7 L1437.1,676.5 L1440.6,681.2 L1444.2,685.9 L1447.7,690.6 L1451.3,695.3 L1455.0,699.9 L1458.6,704.5 L1462.3,709.0 L1466.0,713.6 L1469.7,718.1 L1473.4,722.7 L1477.2,727.2 L1481.0,731.7 L1484.8,736.2 L1488.7,740.7 L1492.6,745.2 L1496.4,749.8 L1500.3,754.3 L1504.2,758.8 L1508.1,763.4 L1512.0,768.0 L1515.9,772.6 L1519.7,777.2 L1523.6,781.9 L1527.3,786.6 L1531.1,791.3 L1534.8,796.0 L1538.4,800.8 L1542.0,805.7 L1545.6,810.5 L1549.1,815.4 L1552.6,820.4 L1556.1,825.3 L1559.5,830.3 L1562.9,835.3 L1566.2,840.3 L1569.6,845.4 L1572.9,850.4 L1576.1,855.5 L1579.4,860.6 L1582.6,865.7 L1585.9,870.9 L1589.1,876.0 L1592.2,881.2 L1595.4,886.3 L1598.6,891.5 L1601.7,896.7 L1604.9,901.9 L1608.0,907.1 L1611.1,912.3 L1614.3,917.5 L1617.4,922.7 L1620.5,927.9 L1623.6,933.1 L1626.8,938.3 L1629.9,943.4 L1633.1,948.6 L1636.2,953.8 L1639.4,958.9 L1642.6,964.1 L1645.8,969.2 L1649.0,974.3 L1652.3,979.4 L1655.5,984.5 L1658.8,989.5 L1662.1,994.6 L1665.5,999.6 L1668.8,1004.6 L1672.2,1009.5 L1675.6,1014.4 L1679.1,1019.4 L1682.6,1024.2 L1686.1,1029.1 L1689.7,1033.9 L1693.3,1038.6 L1697.0,1043.4 L1700.7,1048.1 L1704.4,1052.7 L1708.2,1057.4 L1712.1,1061.9 L1716.0,1066.5 L1719.9,1071.0 L1723.9,1075.4 L1727.9,1079.8 L1732.0,1084.1 L1736.1,1088.4 L1740.3,1092.7 L1744.5,1096.8 L1748.8,1101.0 L1753.1,1105.0 L1757.5,1109.1 L1761.9,1113.0 L1766.4,1116.9 L1770.9,1120.7 L1775.5,1124.5 L1780.1,1128.2 L1784.8,1131.8 L1789.6,1135.4 L1794.4,1138.9 L1799.3,1142.3 L1804.2,1145.6 L1809.2,1148.9 L1814.2,1152.1 L1819.3,1155.2 L1824.5,1158.2 L1829.7,1161.2 L1835.0,1164.0 L1840.3,1166.8 L1845.7,1169.5 L1851.2,1172.1 L1856.7,1174.6 L1862.3,1177.1 L1868.0,1179.4 L1873.7,1181.7 L1879.5,1183.8 L1885.3,1185.9 L1891.2,1187.8 L1897.2,1189.7 L1903.3,1191.4 L1909.4,1193.1 L1915.6,1194.7 L1921.9,1196.1 L1928.2,1197.4 L1934.6,1198.7" stroke="#ff007f"/>
<path d="M1335.1,520.3 L1339.5,524.4 L1343.8,528.5 L1348.1,532.7 L1352.3,537.0 L1356.5,541.3 L1360.5,545.6 L1364.6,550.1 L1368.6,554.5 L1372.5,559.0 L1376.4,563.6 L1380.3,568.2 L1384.1,572.8 L1387.9,577.5 L1391.6,582.2 L1395.3,587.0 L1398.9,591.8 L1402.5,596.7 L1406.1,601.5 L1409.6,606.4 L1413.1,611.4 L1416.6,616.4 L1420.1,621.4 L1423.5,626.4 L1426.9,631.4 L1430.3,636.5 L1433.6,641.6 L1437.0,646.7 L1440.3,651.8 L1443.6,657.0 L1446.9,662.1 L1450.2,667.3 L1453.4,672.5 L1456.7,677.7 L1459.9,682.9 L1463.1,688.1 L1466.3,693.3 L1469.6,698.5 L1472.8,703.7 L1476.0,708.9 L1479.2,714.1 L1482.4,719.3 L1485.6,724.5 L1488.8,729.7 L1492.1,734.9 L1495.3,740.1 L1498.6,745.3 L1501.8,750.4 L1505.1,755.5 L1508.4,760.7 L1511.7,765.8 L1515.0,770.8 L1518.3,775.9 L1521.7,780.9 L1525.0,785.9 L1528.4,790.9 L1531.9,795.9 L1535.3,800.8 L1538.8,805.7 L1542.3,810.6 L1545.9,815.4 L1549.4,820.2 L1553.0,824.9 L1556.7,829.6" stroke="#ff007f"/>
</g>
<g font-family="'Liberation Serif', 'Times New Roman', serif" font-weight="bold" fill="#000">
<text x="156.0" y="98.2" font-size="96.5" textLength="141.6" lengthAdjust="spacingAndGlyphs">180</text>
<text x="156.0" y="275.6" font-size="96.5" textLength="141.6" lengthAdjust="spacingAndGlyphs">160</text>
<text x="156.0" y="452.9" font-size="96.5" textLength="141.6" lengthAdjust="spacingAndGlyphs">140</text>
<text x="156.0" y="630.3" font-size="96.5" textLength="141.6" lengthAdjust="spacingAndGlyphs">120</text>
<text x="156.0" y="807.7" font-size="96.5" textLength="141.6" lengthAdjust="spacingAndGlyphs">100</text>
<text x="203.2" y="985.1" font-size="96.5" textLength="94.4" lengthAdjust="spacingAndGlyphs">80</text>
<text x="203.2" y="1162.5" font-size="96.5" textLength="94.4" lengthAdjust="spacingAndGlyphs">60</text>
<text x="203.2" y="1339.8" font-size="96.5" textLength="94.4" lengthAdjust="spacingAndGlyphs">40</text>
<text x="203.2" y="1517.2" font-size="96.5" textLength="94.4" lengthAdjust="spacingAndGlyphs">20</text>
<text x="434.2" y="1593" font-size="96" textLength="142.6" lengthAdjust="spacingAndGlyphs">500</text>
<text x="763.5" y="1593" font-size="96" textLength="190.1" lengthAdjust="spacingAndGlyphs">1000</text>
<text x="1116.5" y="1593" font-size="96" textLength="190.1" lengthAdjust="spacingAndGlyphs">1500</text>
<text x="1469.5" y="1593" font-size="96" textLength="190.1" lengthAdjust="spacingAndGlyphs">2000</text>
<text x="1822.5" y="1593" font-size="96" textLength="190.1" lengthAdjust="spacingAndGlyphs">2500</text>
<text x="597" y="1707.5" font-size="121" textLength="1229" lengthAdjust="spacingAndGlyphs">Storage modulus (MPa)</text>
<text transform="translate(123.5 1311.1) rotate(-90)" font-size="121" textLength="1065" lengthAdjust="spacingAndGlyphs">Loss modulus (MPa)</text>
<text x="1600.6" y="228" font-size="76.5" textLength="374.7" lengthAdjust="spacingAndGlyphs">Experiment</text>
<text x="1600.6" y="321.2" font-size="76.5" textLength="163.8" lengthAdjust="spacingAndGlyphs">FZM</text>
<text x="1600.6" y="412.9" font-size="76.5" textLength="233.9" lengthAdjust="spacingAndGlyphs">MFZM</text>
</g>
<use href="#m" x="1534" y="204"/>
<circle cx="1534" cy="296" r="18" fill="#4dbdce"/>
<circle cx="1534" cy="388" r="18" fill="#ff007f"/>
</svg>
</body></html>
